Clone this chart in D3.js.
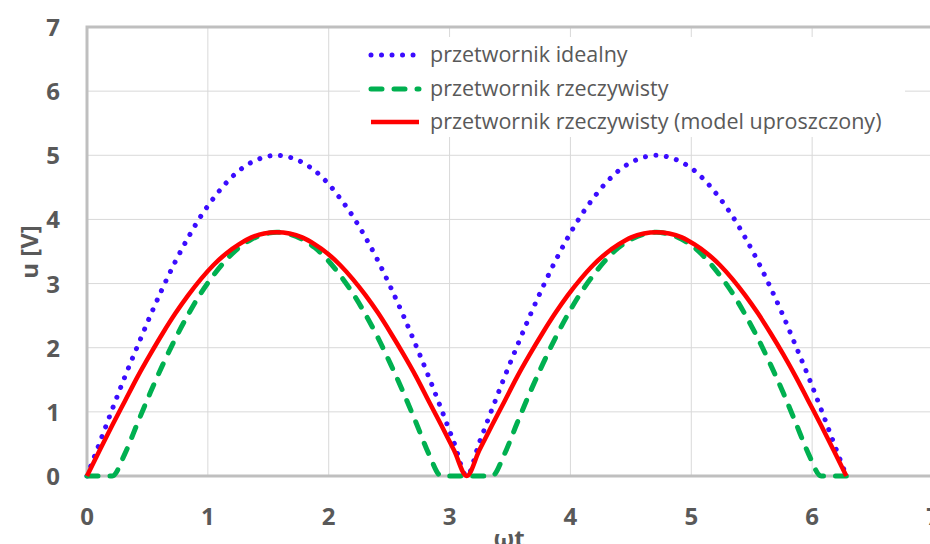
<!DOCTYPE html>
<html>
<head>
<meta charset="utf-8">
<script src="https://cdn.jsdelivr.net/npm/d3@7"></script>
<style>
  body { margin: 0; background: #fff; }
  svg { display: block; }
</style>
</head>
<body>
<div id="chart"></div>
<script>
// omega*t values (rad)
const wt = [0, 0.105, 0.209, 0.314, 0.419, 0.524, 0.628, 0.733, 0.838, 0.942, 1.047, 1.152, 1.257, 1.361, 1.466, 1.571,
  1.676, 1.780, 1.885, 1.990, 2.094, 2.199, 2.304, 2.409, 2.513, 2.618, 2.723, 2.827, 2.932, 3.037, 3.142,
  3.246, 3.351, 3.456, 3.560, 3.665, 3.770, 3.875, 3.979, 4.084, 4.189, 4.294, 4.398, 4.503, 4.608, 4.712,
  4.817, 4.922, 5.027, 5.131, 5.236, 5.341, 5.445, 5.550, 5.655, 5.760, 5.864, 5.969, 6.074, 6.178, 6.283]
const uIdeal = [0, 0.52, 1.04, 1.55, 2.03, 2.50, 2.94, 3.35, 3.72, 4.05, 4.33, 4.57, 4.76, 4.89, 4.97, 5.00,
  4.97, 4.89, 4.76, 4.57, 4.33, 4.05, 3.72, 3.35, 2.94, 2.50, 2.03, 1.55, 1.04, 0.52, 0,
  0.52, 1.04, 1.55, 2.03, 2.50, 2.94, 3.35, 3.72, 4.05, 4.33, 4.57, 4.76, 4.89, 4.97, 5.00,
  4.97, 4.89, 4.76, 4.57, 4.33, 4.05, 3.72, 3.35, 2.94, 2.50, 2.03, 1.55, 1.04, 0.52, 0]
const uReal = [0, 0, 0, 0.35, 0.83, 1.30, 1.74, 2.15, 2.52, 2.85, 3.13, 3.37, 3.56, 3.69, 3.77, 3.80,
  3.77, 3.69, 3.56, 3.37, 3.13, 2.85, 2.52, 2.15, 1.74, 1.30, 0.83, 0.35, 0, 0, 0,
  0, 0, 0.35, 0.83, 1.30, 1.74, 2.15, 2.52, 2.85, 3.13, 3.37, 3.56, 3.69, 3.77, 3.80,
  3.77, 3.69, 3.56, 3.37, 3.13, 2.85, 2.52, 2.15, 1.74, 1.30, 0.83, 0.35, 0, 0, 0]
const uModel = [0, 0.40, 0.79, 1.17, 1.55, 1.90, 2.23, 2.54, 2.82, 3.07, 3.29, 3.47, 3.61, 3.72, 3.78, 3.80,
  3.78, 3.72, 3.61, 3.47, 3.29, 3.07, 2.82, 2.54, 2.23, 1.90, 1.55, 1.17, 0.79, 0.40, 0,
  0.40, 0.79, 1.17, 1.55, 1.90, 2.23, 2.54, 2.82, 3.07, 3.29, 3.47, 3.61, 3.72, 3.78, 3.80,
  3.78, 3.72, 3.61, 3.47, 3.29, 3.07, 2.82, 2.54, 2.23, 1.90, 1.55, 1.17, 0.79, 0.40, 0]
const seriesNames = ['przetwornik idealny', 'przetwornik rzeczywisty', 'przetwornik rzeczywisty (model uproszczony)']
const xTicks = [0, 1, 2, 3, 4, 5, 6, 7]
const yTicks = [0, 1, 2, 3, 4, 5, 6, 7]

const width = 930
const height = 544
const font = '"Open Sans", "Liberation Sans", sans-serif'
const textColor = '#595959'

const svg = d3.select('#chart')
  .append('svg')
  .attr('width', width)
  .attr('height', height)

const xScale = d3.scaleLinear().domain([0, 7]).range([87, 933])
const yScale = d3.scaleLinear().domain([0, 7]).range([476, 27])

// gridlines
svg.append('g')
  .selectAll('line')
  .data(xTicks.slice(1))
  .join('line')
  .attr('x1', d => xScale(d)).attr('x2', d => xScale(d))
  .attr('y1', yScale(7)).attr('y2', yScale(0))
  .attr('stroke', '#d9d9d9').attr('stroke-width', 1)
svg.append('g')
  .selectAll('line')
  .data(yTicks.slice(1, -1))
  .join('line')
  .attr('x1', xScale(0)).attr('x2', xScale(7))
  .attr('y1', d => yScale(d)).attr('y2', d => yScale(d))
  .attr('stroke', '#d9d9d9').attr('stroke-width', 1)

// plot border (top, left) and x axis line
svg.append('path')
  .attr('d', 'M' + xScale(7) + ',' + yScale(7) + 'H' + xScale(0) + 'V' + yScale(0))
  .attr('fill', 'none').attr('stroke', '#bfbfbf').attr('stroke-width', 3)
svg.append('line')
  .attr('x1', xScale(0) - 1.5).attr('x2', xScale(7))
  .attr('y1', yScale(0)).attr('y2', yScale(0))
  .attr('stroke', '#bfbfbf').attr('stroke-width', 3)

// tick labels
svg.append('g')
  .selectAll('text')
  .data(xTicks)
  .join('text')
  .attr('x', d => xScale(d))
  .attr('y', 525)
  .attr('text-anchor', 'middle')
  .attr('font-family', font).attr('font-weight', 'bold').attr('font-size', 24)
  .attr('fill', textColor)
  .text(d => d)
svg.append('g')
  .selectAll('text')
  .data(yTicks)
  .join('text')
  .attr('x', 60)
  .attr('y', d => yScale(d) + 9)
  .attr('text-anchor', 'end')
  .attr('font-family', font).attr('font-weight', 'bold').attr('font-size', 24)
  .attr('fill', textColor)
  .text(d => d)

// axis titles
svg.append('text')
  .attr('transform', 'translate(38,252) rotate(-90)')
  .attr('text-anchor', 'middle')
  .attr('font-family', font).attr('font-weight', 'bold').attr('font-size', 24)
  .attr('fill', textColor)
  .text('u [V]')
svg.append('text')
  .attr('x', 509).attr('y', 547)
  .attr('text-anchor', 'middle')
  .attr('font-family', font).attr('font-weight', 'bold').attr('font-size', 24)
  .attr('fill', textColor)
  .text('ωt')

// series
const styles = [
  { color: '#3b0cff', width: 5, dash: '0.01 10.5', cap: 'round' },
  { color: '#00b050', width: 5, dash: '11 12', cap: 'round' },
  { color: '#ff0000', width: 4.5, dash: null, cap: 'butt' }
]
const seriesData = [uIdeal, uReal, uModel]

const line = d3.line()
  .x(d => xScale(d[0]))
  .y(d => yScale(d[1]))
  .curve(d3.curveMonotoneX)

seriesData.forEach((s, i) => {
  svg.append('path')
    .datum(wt.map((x, j) => [x, s[j]]))
    .attr('d', line)
    .attr('fill', 'none')
    .attr('stroke', styles[i].color)
    .attr('stroke-width', styles[i].width)
    .attr('stroke-dasharray', styles[i].dash)
    .attr('stroke-linecap', styles[i].cap)
    .attr('stroke-linejoin', 'round')
})

// legend
const legend = svg.append('g')
legend.append('rect')
  .attr('x', 360).attr('y', 37)
  .attr('width', 545).attr('height', 100)
  .attr('fill', '#fff')
const rowsY = [55, 89, 122]
seriesNames.forEach((name, i) => {
  legend.append('line')
    .attr('x1', 371).attr('x2', 419)
    .attr('y1', rowsY[i]).attr('y2', rowsY[i])
    .attr('stroke', styles[i].color)
    .attr('stroke-width', styles[i].width)
    .attr('stroke-dasharray', styles[i].dash)
    .attr('stroke-linecap', styles[i].cap)
  legend.append('text')
    .attr('x', 430).attr('y', rowsY[i] + 7)
    .attr('font-family', font).attr('font-size', 21.5)
    .attr('fill', textColor)
    .text(name)
})
</script>
</body>
</html>
